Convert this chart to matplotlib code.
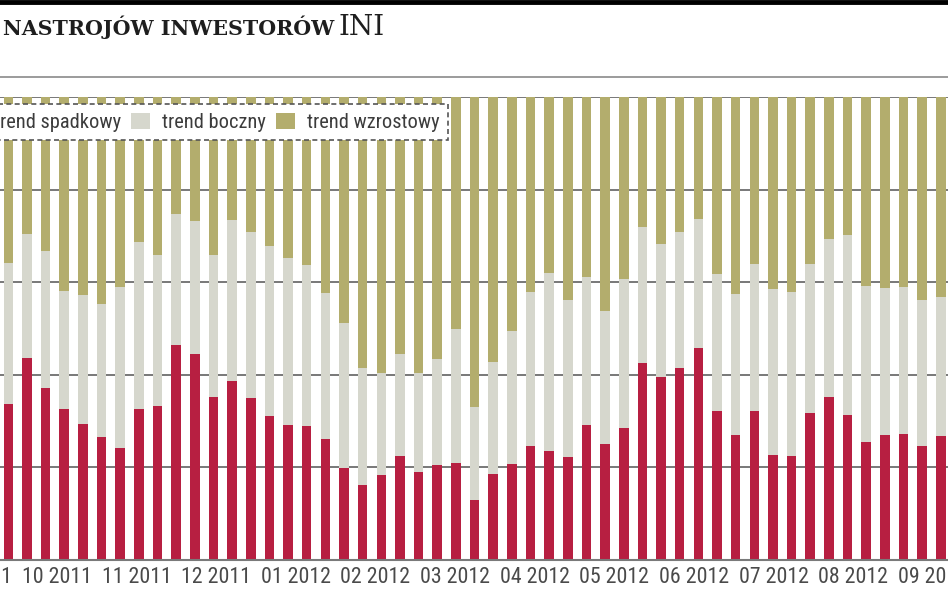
import matplotlib
matplotlib.use("Agg")
import matplotlib.pyplot as plt
from matplotlib import font_manager
from matplotlib.patches import Patch
import matplotlib.transforms as mtrans
import numpy as np

# ---- data (percent of answers, weekly survey) ----
spadkowy = [33.6, 43.6, 37.0, 32.5, 29.3, 26.5, 24.1, 32.5, 33.2, 46.3,
            44.4, 35.2, 38.6, 34.9, 31.0, 29.1, 28.8, 26.0, 19.8, 16.2,
            18.3, 22.3, 18.9, 20.4, 20.8, 12.9, 18.5, 20.7, 24.5, 23.5,
            22.2, 29.1, 24.9, 28.4, 42.5, 39.4, 41.5, 45.8, 32.2, 26.9,
            32.2, 22.5, 22.3, 31.6, 35.1, 31.3, 25.3, 27.0, 27.2, 24.5, 26.8]
boczny = [30.5, 26.8, 29.6, 25.6, 27.9, 28.7, 34.9, 36.1, 32.7, 28.5,
          28.7, 30.7, 34.9, 35.9, 36.7, 36.0, 34.9, 31.7, 31.4, 25.2,
          22.1, 22.2, 21.5, 23.0, 29.1, 20.0, 24.2, 28.7, 33.4, 38.4,
          34.0, 31.9, 28.8, 32.2, 29.4, 28.8, 29.3, 27.9, 29.5, 30.6,
          31.7, 35.9, 35.6, 32.2, 34.2, 38.9, 33.9, 31.8, 31.8, 31.7, 30.0]
wzrostowy = [35.9, 29.6, 33.4, 41.9, 42.8, 44.8, 41.0, 31.4, 34.1, 25.2,
             26.9, 34.1, 26.5, 29.2, 32.3, 34.9, 36.3, 42.3, 48.8, 58.6,
             59.6, 55.5, 59.6, 56.6, 50.1, 67.1, 57.3, 50.6, 42.1, 38.1,
             43.8, 39.0, 46.3, 39.4, 28.1, 31.8, 29.2, 26.3, 38.3, 42.5,
             36.1, 41.6, 42.1, 36.2, 30.7, 29.8, 40.8, 41.2, 41.0, 43.8, 43.2]
month_labels = ["09 2011", "10 2011", "11 2011", "12 2011", "01 2012", "02 2012",
                "03 2012", "04 2012", "05 2012", "06 2012", "07 2012", "08 2012",
                "09 2012"]
series_names = ["trend spadkowy", "trend boczny", "trend wzrostowy"]

# ---- style ----
C_RED = "#b71f41"
C_GRAY = "#d6d7cd"
C_OLIVE = "#b3ad6d"
C_GRID = "#6d6d6d"
C_TEXT = "#3c3c3c"

# pick the narrowest available sans family
FONT = {"family": "DejaVu Sans"}
cands = []
for f in font_manager.fontManager.ttflist:
    nm = f.name.lower()
    st = str(f.stretch).lower()
    if "narrow" in nm or "condensed" in nm:
        cands.append({"family": f.name})
    elif st in ("condensed", "semi-condensed", "extra-condensed", "ultra-condensed") \
            or (st.isdigit() and int(st) < 500):
        cands.append({"family": f.name, "stretch": st})
pref = ["liberation sans narrow", "roboto condensed", "open sans condensed", "dejavu sans"]
for p in pref:
    hit = [c for c in cands if c["family"].lower() == p]
    if hit:
        FONT = hit[0]
        break
else:
    if cands:
        FONT = cands[0]

W, H = 948, 593
fig = plt.figure(figsize=(W / 100, H / 100), dpi=100)
fig.patch.set_facecolor("white")
renderer = fig.canvas.get_renderer()


def fit_size(text, target_px, start=12):
    t = fig.text(0, 0, text, fontsize=start, **FONT)
    w = t.get_window_extent(renderer=renderer).width
    t.remove()
    return start * target_px / w


FS_LEG = fit_size("trend wzrostowy", 132)
FS_TICK = fit_size("10 2011", 69)

y_top_px, y_bot_px = 97, 559.5
ax = fig.add_axes([0, (H - y_bot_px) / H, 1, (y_bot_px - y_top_px) / H])
ax.set_facecolor("white")

n = len(spadkowy)
x = np.arange(n)
pitch = 18.65
x0_px = 8.3
ax.set_xlim(-x0_px / pitch, (W - x0_px) / pitch)
ax.set_ylim(0, 100)

bw = 0.51
sp = np.array(spadkowy)
bo = np.array(boczny)
wz = np.array(wzrostowy)
ax.bar(x, sp, width=bw, color=C_RED, zorder=2, linewidth=0)
ax.bar(x, bo, width=bw, bottom=sp, color=C_GRAY, zorder=2, linewidth=0)
ax.bar(x, wz, width=bw, bottom=sp + bo, color=C_OLIVE, zorder=2, linewidth=0)

for v in [20, 40, 60, 80, 100]:
    ax.axhline(v, color=C_GRID, lw=1.3, zorder=1)

for s in ["top", "right", "left"]:
    ax.spines[s].set_visible(False)
ax.spines["bottom"].set_color("#7a7a7a")
ax.spines["bottom"].set_linewidth(1.5)
ax.spines["bottom"].set_zorder(3)
ax.set_yticks([])
ax.set_xticks([])

# month labels (evenly spaced, as in the original)
lab_start = -1.67
lab_step = 4.27
trans = mtrans.blended_transform_factory(ax.transData, ax.transAxes)
for k, lab in enumerate(month_labels):
    ax.text(lab_start + k * lab_step, -0.016, lab, transform=trans,
            ha="center", va="top", fontsize=FS_TICK, color="#4a4a4a",
            clip_on=False, **FONT)

# legend
fs_px = FS_LEG * 100 / 72
handles = [Patch(facecolor=C_RED, edgecolor="none"),
           Patch(facecolor=C_GRAY, edgecolor="none"),
           Patch(facecolor=C_OLIVE, edgecolor="none")]
prop = dict(FONT)
prop["size"] = FS_LEG
leg = ax.legend(handles, series_names, loc="upper right",
                bbox_to_anchor=(448 / W, (y_bot_px - 104) / (y_bot_px - y_top_px)),
                ncol=3, frameon=True, fancybox=False, prop=prop,
                handlelength=19 / fs_px, handleheight=18 / fs_px,
                handletextpad=12 / fs_px, columnspacing=10 / fs_px,
                borderpad=0.42, borderaxespad=0)
fr = leg.get_frame()
fr.set_facecolor("white")
fr.set_alpha(1)
fr.set_edgecolor("#555555")
fr.set_linewidth(1.2)
fr.set_linestyle((0, (3, 2)))
for t in leg.get_texts():
    t.set_color(C_TEXT)
leg.set_zorder(5)

# header: black top rule, title, grey rule
fig.add_artist(plt.Line2D([0, 1], [1 - 2 / H, 1 - 2 / H], color="black", lw=3.5,
                          transform=fig.transFigure))
fig.add_artist(plt.Line2D([0, 1], [1 - 77 / H, 1 - 77 / H], color="#8a8a8a", lw=1.2,
                          transform=fig.transFigure))
fig.text(3 / W, 1 - 35 / H, "NASTROJÓW INWESTORÓW", family="DejaVu Serif",
         weight="bold", fontsize=14.8, color="#1e1e1e", ha="left", va="baseline")
fig.text(339 / W, 1 - 35 / H, "INI", family="DejaVu Serif",
         weight="normal", fontsize=20, color="#1e1e1e", ha="left", va="baseline")

fig.savefig("out.png", dpi=100, facecolor="white")
